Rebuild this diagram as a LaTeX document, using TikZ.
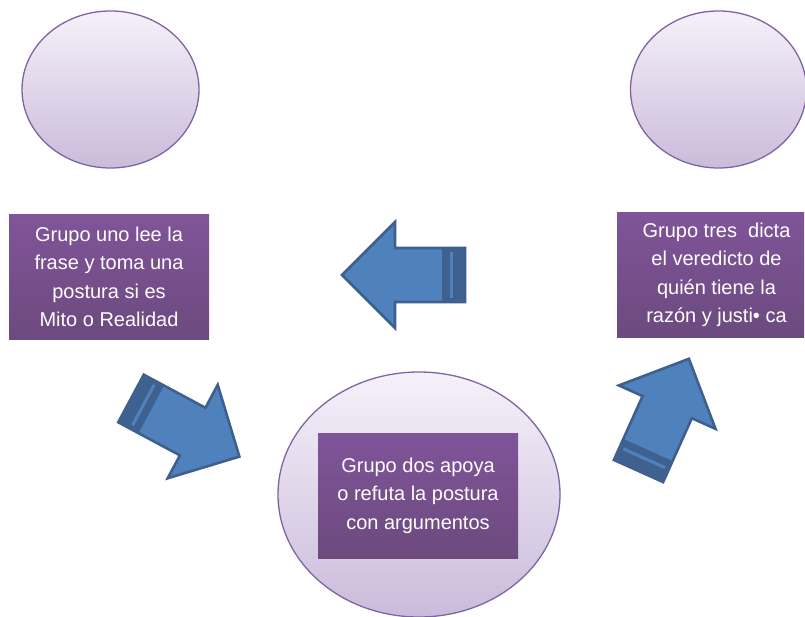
\documentclass[tikz,border=0pt]{standalone}
\usepackage{fontspec}
\setmainfont{Liberation Sans}
\usetikzlibrary{shapes.geometric}
\definecolor{ellTop}{RGB}{245,241,249}
\definecolor{ellBot}{RGB}{203,187,219}
\definecolor{ellLine}{RGB}{128,100,162}
\definecolor{boxTop}{RGB}{128,84,153}
\definecolor{boxBot}{RGB}{108,74,126}
\definecolor{arrFill}{RGB}{79,129,189}
\definecolor{arrLine}{RGB}{62,96,142}
\definecolor{arrBand}{RGB}{63,97,144}
\tikzset{
  bubble/.style={ellipse, draw=ellLine, line width=1.3pt, top color=ellTop, bottom color=ellBot, inner sep=0pt},
  boxtext/.style={text=white, align=center, inner sep=0pt, font=\fontsize{20}{28.5}\selectfont},
  purplebox/.style={rectangle, top color=boxTop, bottom color=boxBot, boxtext},
  bigarrow/.pic={
    \path[fill=arrFill, draw=arrLine, line width=2.6pt, line join=miter]
      (0,-27) -- (70,-27) -- (70,-53) -- (123,0) -- (70,53) -- (70,27) -- (0,27) -- cycle;
    \fill[arrBand] (1.3,-25.7) rectangle (23,25.7);
    \fill[arrFill] (12.5,-23) rectangle (15.5,23);
  }
}
\begin{document}
\begin{tikzpicture}[x=1pt,y=-1pt]
\useasboundingbox (0,0) rectangle (805,617);
\clip (0,0) rectangle (805,617);
% ellipses
\node[bubble, minimum width=177pt, minimum height=157pt] (e1) at (110.5,89.5) {};
\node[bubble, minimum width=176pt, minimum height=157pt] (e2) at (718.5,89.5) {};
\node[bubble, minimum width=282pt, minimum height=245pt] (e3) at (419,494.5) {};
% boxes
\node[purplebox, minimum width=200pt, minimum height=124pt] (b1) at (109,277)
  {Grupo uno lee la\\frase y toma una\\postura si es\\Mito o Realidad};
\node[purplebox, minimum width=187pt, minimum height=124pt] (b3) at (710.5,275) {};
\node[boxtext] (t3) at (716.5,275)
  {Grupo tres\ \ dicta\\el veredicto de\\quién tiene la\\razón y justi• ca};
\node[purplebox, minimum width=200pt, minimum height=125pt] (b2) at (418,495.5)
  {Grupo dos apoya\\o refuta la postura\\con argumentos};
% arrows
\pic[rotate=180] at (465,275) {bigarrow};
\pic[rotate=-28.2] at (131,398.5) {bigarrow};
\pic[rotate=65.8] at (638.5,471) {bigarrow};
\end{tikzpicture}
\end{document}
